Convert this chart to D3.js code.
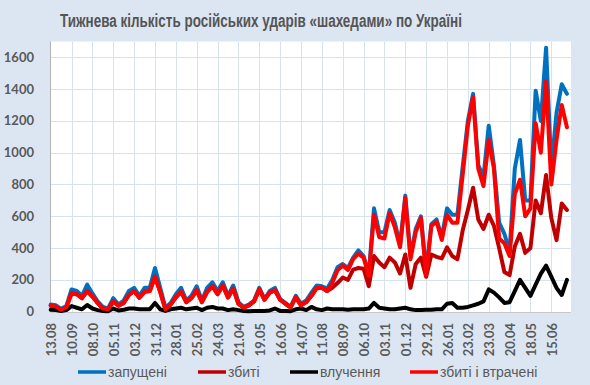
<!DOCTYPE html>
<html>
<head>
<meta charset="utf-8">
<script src="https://cdn.jsdelivr.net/npm/d3@7"></script>
<style>
  body { margin: 0; background: #dce6f2; }
  svg { display: block; }
</style>
</head>
<body>
<div id="chart"></div>
<script>
const width = 590;
const height = 385;

const title = "Тижнева кількість російських ударів «шахедами» по Україні";
const seriesNames = ["запущені", "збиті", "влучення", "збиті і втрачені"];
const seriesColors = ["#0070c0", "#c00000", "#000000", "#ff0000"];

// weekly points starting from this date
const firstWeek = "2023-08-13";

const tickDates = [
  "2023-08-13", "2023-09-10", "2023-10-08", "2023-11-05", "2023-12-03", "2023-12-31",
  "2024-01-28", "2024-02-25", "2024-03-24", "2024-04-21", "2024-05-19", "2024-06-16",
  "2024-07-14", "2024-08-11", "2024-09-08", "2024-10-06", "2024-11-03", "2024-12-01",
  "2024-12-29", "2025-01-26", "2025-02-23", "2025-03-23", "2025-04-20", "2025-05-18",
  "2025-06-15"
];
const yTicks = [0, 200, 400, 600, 800, 1000, 1200, 1400, 1600];

const launched = [
  45, 40, 18, 35, 140, 130, 100, 170, 115, 65,
  30, 20, 85, 45, 70, 130, 150, 100, 150, 150,
  275, 150, 25, 55, 110, 150, 70, 100, 160, 70,
  150, 185, 130, 185, 100, 165, 60, 30, 45, 70,
  150, 80, 130, 150, 80, 55, 30, 100, 50, 70,
  120, 165, 160, 145, 200, 280, 300, 275, 340, 385,
  350, 240, 650, 500, 500, 640, 560, 420, 730, 350,
  520, 600, 250, 550, 580, 470, 650, 610, 610, 910,
  1200, 1370, 920, 850, 1170, 920, 560, 490, 380, 900,
  1080, 700, 700, 1390, 1200, 1660, 900, 1250, 1430, 1370
];
const shotDown = [
  38, 32, 12, 28, 115, 110, 85, 130, 95, 55,
  20, 15, 65, 38, 55, 105, 130, 88, 125, 130,
  220, 125, 15, 45, 90, 125, 60, 85, 135, 60,
  125, 160, 110, 165, 90, 145, 50, 25, 40, 65,
  140, 75, 120, 135, 75, 50, 27, 90, 40, 60,
  100, 148, 150, 130, 150, 180, 215, 200, 265, 275,
  270, 160, 350, 310, 280, 340, 310, 240, 360, 150,
  300, 340, 220, 360, 345, 335, 405, 350, 330, 510,
  640, 780, 580, 520, 610, 540, 400, 250, 230, 410,
  490, 370, 400, 700, 620, 860, 590, 450, 680, 640
];
const hits = [
  12, 10, 5, 10, 35, 25, 15, 42, 20, 10,
  5, 3, 20, 8, 12, 20, 20, 15, 15, 15,
  55, 15, 5, 15, 20, 25, 15, 20, 25, 10,
  25, 30, 20, 20, 10, 15, 10, 5, 3, 5,
  5, 5, 8, 20, 5, 5, 3, 15, 20, 10,
  30, 15, 10, 20, 15, 15, 15, 12, 15, 15,
  15, 20, 55, 25, 20, 15, 15, 20, 25, 15,
  10, 10, 12, 12, 15, 15, 50, 55, 25, 25,
  30, 40, 50, 65, 140, 120, 90, 55, 60, 130,
  200, 150, 100, 170, 240, 290, 220, 150, 105, 200
];
const shotOrLost = [
  38, 32, 12, 28, 115, 110, 85, 130, 95, 55,
  20, 15, 65, 38, 55, 105, 130, 88, 125, 130,
  220, 125, 15, 45, 90, 125, 60, 85, 135, 60,
  125, 160, 110, 165, 90, 145, 50, 25, 40, 65,
  140, 75, 120, 135, 75, 50, 27, 90, 40, 60,
  100, 148, 150, 130, 180, 260, 290, 262, 330, 365,
  340, 225, 610, 470, 460, 620, 530, 405, 715, 330,
  500, 590, 230, 540, 566, 451, 610, 560, 560, 860,
  1170, 1350, 900, 790, 1080, 900, 460, 430, 350, 740,
  830, 600, 650, 1185, 1000, 1450, 800, 1080, 1300, 1160
];

const series = [launched, shotDown, hits, shotOrLost];

const parse = d3.utcParse("%Y-%m-%d");
const fmt = d3.utcFormat("%d.%m");
const start = parse(firstWeek);
const weeks = launched.map((_, i) => d3.utcDay.offset(start, i * 7));

const plot = {left: 50.5, right: 571, top: 41.5, bottom: 312};

const x = d3.scaleUtc()
  .domain([parse(tickDates[0]), parse(tickDates[tickDates.length - 1])])
  .range([50.7, 551.3]);
const y = d3.scaleLinear().domain([0, 1700]).range([311.7, 41.4]);

const svg = d3.select("#chart").append("svg")
  .attr("width", width).attr("height", height);

svg.append("rect").attr("width", width).attr("height", height).attr("fill", "#dce6f2");

svg.append("text")
  .attr("x", 261).attr("y", 27)
  .attr("text-anchor", "middle")
  .attr("font-family", "'Liberation Sans Narrow', 'Liberation Sans', sans-serif")
  .attr("font-weight", "bold")
  .attr("font-size", 17.5)
  .attr("fill", "#555")
  .attr("textLength", 402)
  .attr("lengthAdjust", "spacingAndGlyphs")
  .text(title);

svg.append("rect")
  .attr("x", plot.left).attr("y", plot.top)
  .attr("width", plot.right - plot.left).attr("height", plot.bottom - plot.top)
  .attr("fill", "#fff");

// grid
const grid = svg.append("g").attr("stroke", "#d7e2ef").attr("stroke-width", 1);
grid.selectAll(".hg").data(yTicks.slice(1)).join("line")
  .attr("x1", plot.left).attr("x2", plot.right)
  .attr("y1", d => Math.round(y(d)) + 0.5).attr("y2", d => Math.round(y(d)) + 0.5);
grid.selectAll(".vg").data(tickDates.slice(1)).join("line")
  .attr("y1", plot.top).attr("y2", plot.bottom)
  .attr("x1", d => Math.round(x(parse(d))) + 0.5).attr("x2", d => Math.round(x(parse(d))) + 0.5);

// axis lines
svg.append("line").attr("x1", plot.left).attr("x2", plot.left)
  .attr("y1", plot.top).attr("y2", plot.bottom).attr("stroke", "#b4b4b4");
svg.append("line").attr("x1", plot.left).attr("x2", plot.right)
  .attr("y1", plot.bottom + 0.5).attr("y2", plot.bottom + 0.5).attr("stroke", "#c8c8c8");

// y labels
svg.append("g").selectAll("text").data(yTicks).join("text")
  .attr("x", 34).attr("y", d => y(d)).attr("dy", "0.35em")
  .attr("text-anchor", "end")
  .attr("font-family", "Lato, 'Open Sans', sans-serif")
  .attr("font-weight", "bold").attr("font-size", 13)
  .attr("fill", "#595959")
  .text(d => d);

// x labels
svg.append("g").selectAll("text").data(tickDates).join("text")
  .attr("transform", d => `translate(${x(parse(d)) + 1},323) rotate(-90)`)
  .attr("dy", "0.35em")
  .attr("text-anchor", "end")
  .attr("font-family", "Lato, 'Open Sans', sans-serif")
  .attr("font-weight", "bold").attr("font-size", 13)
  .attr("fill", "#595959")
  .text(d => fmt(parse(d)));

// lines
const line = d3.line()
  .x((d, i) => x(weeks[i]))
  .y(d => y(d));

svg.append("g").selectAll("path").data(series).join("path")
  .attr("d", line)
  .attr("fill", "none")
  .attr("stroke", (d, i) => seriesColors[i])
  .attr("stroke-width", 4)
  .attr("stroke-linejoin", "round")
  .attr("stroke-linecap", "round");

// legend
const legendX = [78, 198, 290, 410];
const legend = svg.append("g").selectAll("g").data(seriesNames).join("g")
  .attr("transform", (d, i) => `translate(${legendX[i]},372)`);
legend.append("line")
  .attr("x1", 0).attr("x2", 28)
  .attr("stroke", (d, i) => seriesColors[i]).attr("stroke-width", 3.5);
legend.append("text")
  .attr("x", 30).attr("dy", "0.35em")
  .attr("font-family", "'Liberation Sans', Arial, sans-serif")
  .attr("font-size", 14)
  .attr("fill", "#595959")
  .text(d => d);
</script>
</body>
</html>
